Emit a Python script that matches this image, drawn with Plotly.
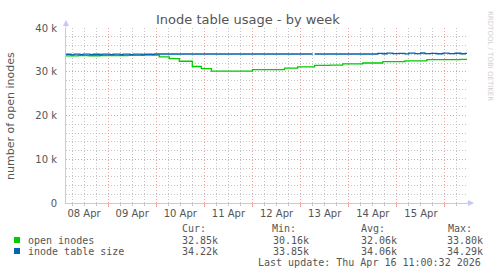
import plotly.graph_objects as go

# ---------------- data ----------------
open_times = ["2026-04-08 03:00", "2026-04-08 09:00", "2026-04-08 14:30", "2026-04-08 20:00",
              "2026-04-09 04:00", "2026-04-09 10:00", "2026-04-09 17:00", "2026-04-10 01:30",
              "2026-04-10 06:30", "2026-04-10 11:30", "2026-04-10 18:00", "2026-04-10 22:30",
              "2026-04-11 03:30", "2026-04-12 00:00", "2026-04-12 16:00", "2026-04-12 22:30",
              "2026-04-13 07:00", "2026-04-13 14:30", "2026-04-13 21:00", "2026-04-14 07:00",
              "2026-04-14 17:00", "2026-04-15 04:00", "2026-04-15 15:00", "2026-04-16 07:30",
              "2026-04-16 11:00"]
open_vals = [33650, 33700, 33660, 33720, 33680, 33740, 33800, 33400,
             33000, 32400, 31200, 30700,
             30160, 30500, 30850, 31100,
             31450, 31500, 31800, 32000,
             32300, 32500, 32750, 32850,
             32850]

table_times = ["2026-04-08 03:00", "2026-04-08 05:30", "2026-04-08 07:00", "2026-04-08 10:00",
               "2026-04-08 11:30", "2026-04-08 15:00", "2026-04-08 16:30", "2026-04-08 20:00",
               "2026-04-08 21:00", "2026-04-09 01:00", "2026-04-09 02:30", "2026-04-09 06:00",
               "2026-04-09 07:30", "2026-04-09 11:00", "2026-04-09 12:30", "2026-04-09 17:00",
               "2026-04-09 18:00", "2026-04-09 22:00", "2026-04-09 23:00", "2026-04-13 06:00",
               "2026-04-13 06:30", "2026-04-13 07:00", "2026-04-14 14:00", "2026-04-14 14:30",
               "2026-04-14 17:00", "2026-04-14 19:00", "2026-04-14 22:00", "2026-04-15 01:00",
               "2026-04-15 04:00", "2026-04-15 06:00", "2026-04-15 09:00", "2026-04-15 12:00",
               "2026-04-15 14:00", "2026-04-15 17:00", "2026-04-15 20:00", "2026-04-15 23:00",
               "2026-04-16 02:00", "2026-04-16 05:00", "2026-04-16 08:00", "2026-04-16 10:00",
               "2026-04-16 11:00"]
table_vals = [34000, 33880, 34020, 33900,
              34040, 33920, 34000, 33870,
              34030, 33930, 34010, 33890,
              34040, 33910, 34020, 33860,
              34000, 33920, 34060, 34060,
              None, 34060, 34060, 34200,
              34120, 34250, 34150, 34220,
              34100, 34240, 34160, 34290,
              34140, 34220, 34120, 34260,
              34150, 34230, 34120, 34220,
              34220]

day_label_pos = ["2026-04-08 12:00", "2026-04-09 12:00", "2026-04-10 12:00", "2026-04-11 12:00",
                 "2026-04-12 12:00", "2026-04-13 12:00", "2026-04-14 12:00", "2026-04-15 12:00"]
day_labels = ["08 Apr", "09 Apr", "10 Apr", "11 Apr", "12 Apr", "13 Apr", "14 Apr", "15 Apr"]
y_tickvals = [0, 10000, 20000, 30000, 40000]
y_ticktext = ["0", "10 k", "20 k", "30 k", "40 k"]

series_names = ["open inodes", "inode table size"]
series_colors = ["#00cc00", "#0066b3"]
cur_vals = ["32.85k", "34.22k"]
min_vals = ["30.16k", "33.85k"]
avg_vals = ["32.06k", "34.06k"]
max_vals = ["33.80k", "34.29k"]

x_range = ["2026-04-08 03:00", "2026-04-16 11:00"]

# ---------------- layout geometry ----------------
W_, H_ = 497, 276
L, R, T, B = 66, 467, 28, 203
PW, PH = R - L, B - T


def px(x):
    return (x - L) / PW


def py(y):
    return (B - y) / PH


GRID_MAJ = "#eca0a0"
GRID_MIN = "#c4c4c4"
AXIS_COL = "#c4c8f4"
TXT = "#555555"
MONO = "DejaVu Sans Mono"
DASH = "1px,2px"

fig = go.Figure()
fig.add_trace(go.Scatter(x=open_times, y=open_vals, mode="lines", line=dict(color=series_colors[0], width=1.3, shape="hv"),
                         xaxis="x", yaxis="y", showlegend=False, hoverinfo="skip"))
fig.add_trace(go.Scatter(x=table_times, y=table_vals, mode="lines", line=dict(color=series_colors[1], width=1.3, shape="hv"),
                         xaxis="x2", yaxis="y", showlegend=False, hoverinfo="skip", connectgaps=False))

annotations = []
# title
annotations.append(dict(text="Inode table usage - by week", x=px(248), y=py(19), xref="paper", yref="paper",
                        showarrow=False, font=dict(size=13, color=TXT), xanchor="center", yanchor="middle"))
# y axis title
annotations.append(dict(text="number of open inodes", x=px(10), y=py(116), xref="paper", yref="paper",
                        showarrow=False, font=dict(size=11, color=TXT), textangle=-90, xanchor="center", yanchor="middle"))
# watermark
annotations.append(dict(text="RRDTOOL / TOBI OETIKER", x=px(490), y=py(56), xref="paper", yref="paper",
                        showarrow=False, font=dict(size=7, color="#d0d0d0"), textangle=90, xanchor="center", yanchor="middle"))
# axis arrows
annotations.append(dict(x=px(66), y=py(20), ax=0, ay=9, xref="paper", yref="paper", axref="pixel", ayref="pixel",
                        showarrow=True, arrowhead=2, arrowsize=1.2, arrowwidth=1, arrowcolor=AXIS_COL, text=""))
annotations.append(dict(x=px(474), y=py(203), ax=-9, ay=0, xref="paper", yref="paper", axref="pixel", ayref="pixel",
                        showarrow=True, arrowhead=2, arrowsize=1.2, arrowwidth=1, arrowcolor=AXIS_COL, text=""))


def mono(text, x, y, anchor="left"):
    annotations.append(dict(text=text, x=px(x), y=py(y), xref="paper", yref="paper", showarrow=False,
                            font=dict(family=MONO, size=10, color=TXT), xanchor=anchor, yanchor="middle"))


mono("Cur:", 180, 228)
mono("Min:", 270, 228)
mono("Avg:", 359, 228)
mono("Max:", 446, 228)
rows_y = [240, 251]
shapes = []
for i in range(2):
    mono(series_names[i], 26, rows_y[i])
    mono(cur_vals[i], 180, rows_y[i])
    mono(min_vals[i], 271, rows_y[i])
    mono(avg_vals[i], 359, rows_y[i])
    mono(max_vals[i], 445, rows_y[i])
    shapes.append(dict(type="rect", xref="paper", yref="paper", x0=px(14), x1=px(20),
                       y0=py(rows_y[i] + 3), y1=py(rows_y[i] - 3), fillcolor=series_colors[i], line=dict(width=0)))
mono("Last update: Thu Apr 16 11:00:32 2026", 483, 262, anchor="right")

fig.update_layout(
    width=W_, height=H_,
    margin=dict(l=L, r=W_ - R, t=T, b=H_ - B, pad=0),
    paper_bgcolor="white", plot_bgcolor="white",
    font=dict(family="DejaVu Sans", color=TXT, size=10),
    showlegend=False,
    annotations=annotations,
    shapes=shapes,
    xaxis=dict(type="date", range=x_range, dtick=86400000, tick0="2026-04-08 00:00",
               showticklabels=False, showgrid=True, gridcolor=GRID_MAJ, griddash=DASH, gridwidth=1,
               ticks="outside", ticklen=3, tickcolor=GRID_MAJ,
               minor=dict(dtick=21600000, tick0="2026-04-08 00:00", showgrid=True, gridcolor=GRID_MIN,
                          griddash=DASH, ticks="outside", ticklen=2, tickcolor=GRID_MIN),
               showline=True, linecolor=AXIS_COL, linewidth=1, zeroline=False, fixedrange=True),
    xaxis2=dict(type="date", range=x_range, overlaying="x", anchor="y", side="bottom",
                tickmode="array", tickvals=day_label_pos, ticktext=day_labels,
                showgrid=False, ticks="", showline=False, zeroline=False,
                tickfont=dict(size=10, color=TXT), ticklabelstandoff=3),
    yaxis=dict(range=[0, 40000], tickmode="array", tickvals=y_tickvals, ticktext=y_ticktext,
               showgrid=True, gridcolor=GRID_MAJ, griddash=DASH, gridwidth=1,
               minor=dict(dtick=2000, tick0=0, showgrid=True, gridcolor=GRID_MIN, griddash=DASH),
               showline=True, linecolor=AXIS_COL, linewidth=1, zeroline=False,
               tickfont=dict(size=10, color=TXT), ticks="", ticklabelstandoff=6, fixedrange=True),
)

fig.write_html("out.html")
